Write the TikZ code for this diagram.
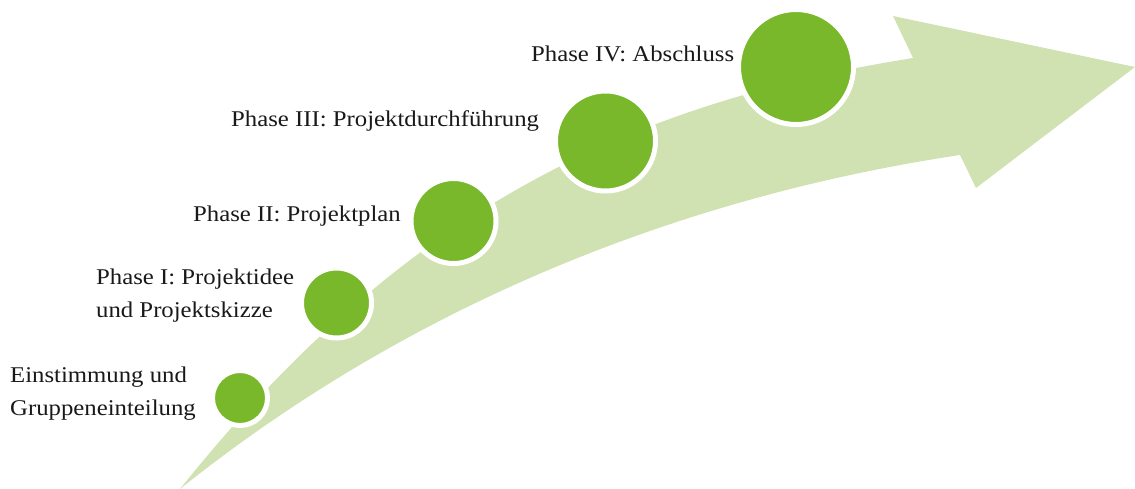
\documentclass[tikz,border=0pt]{standalone}
\usepackage{fontspec}
\setmainfont[FakeStretch=1.1]{Liberation Serif}
\definecolor{dgreen}{RGB}{120,184,42}
\definecolor{lgreen}{RGB}{209,226,178}
\begin{document}
\begin{tikzpicture}[x=1pt,y=-1pt,
  dot/.style={circle,fill=dgreen,draw=white,line width=5pt,inner sep=0pt,minimum size=#1},
  lbl/.style={anchor=base west,inner sep=0pt,align=left,text=black!90,font=\fontsize{22.5}{33}\selectfont}]
\useasboundingbox (0,0) rectangle (1135,489);
\fill[lgreen] (180,489) .. controls (400,214) and (622,104.4) .. (913,58)
  -- (893,16) -- (1135,67) -- (976,188) -- (960,155)
  .. controls (710,192.5) and (430,289) .. (180,489) -- cycle;
\node[dot=55pt] (c0) at (240,398) {};
\node[dot=70pt] (c1) at (336.5,303) {};
\node[dot=85pt] (c2) at (453.5,221) {};
\node[dot=100pt] (c3) at (605.5,141) {};
\node[dot=115pt] (c4) at (796,67) {};
\node[lbl] (t0) at (10,415) {Einstimmung und\\Gruppeneinteilung};
\node[lbl] (t1) at (96,317) {Phase I: Projektidee\\und Projektskizze};
\node[lbl] (t2) at (193,222) {Phase II: Projektplan};
\node[lbl] (t3) at (231,127) {Phase III: Projektdurchführung};
\node[lbl] (t4) at (531,62) {Phase IV: Abschluss};
\end{tikzpicture}
\end{document}
